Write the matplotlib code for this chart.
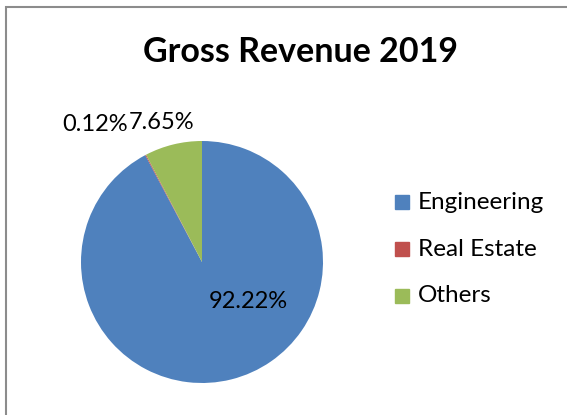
import matplotlib.pyplot as plt
from matplotlib.patches import Rectangle

# Data
categories = ["Engineering", "Real Estate", "Others"]
shares = [92.22, 0.12, 7.65]
pct_labels = ["92.22%", "0.12%", "7.65%"]
colors = ["#4F81BD", "#C0504D", "#9BBB59"]

plt.rcParams['font.family'] = ['Lato', 'DejaVu Sans']

fig = plt.figure(figsize=(5.67, 4.15), dpi=100)
# pixel mapping: pie centre at (202, 262), radius 121 px
cx, cy, r = 202, 262, 121
ax = fig.add_axes([0, 0, 1, 1])

wedges, _ = ax.pie(shares, colors=colors, startangle=90, counterclock=False,
                   radius=1, center=(0, 0), frame=True)
ax.set_xlim(-cx / r, (567 - cx) / r)
ax.set_ylim((cy - 415) / r, cy / r)
ax.set_aspect('auto')
ax.axis('off')

def px(x, y):
    return ((x - cx) / r, (cy - y) / r)

# data labels
label_pos = [(248, 302), (95, 124), (162, 122)]
for lab, (x, y) in zip(pct_labels, label_pos):
    ax.text(*px(x, y), lab, ha='center', va='center', fontsize=17, color='#000000')

# title
ax.text(*px(300, 52), "Gross Revenue 2019", ha='center', va='center',
        fontsize=24.5, fontweight='bold')

# legend
leg_y = [202, 249, 296]
for name, c, y in zip(categories, colors, leg_y):
    ax.add_patch(Rectangle(px(395, y + 7), 14 / r, 14 / r, color=c))
    ax.text(*px(418, y), name, ha='left', va='center', fontsize=17.5)

# chart frame
fig.patches.append(Rectangle((6 / 567, -0.1), 1.2, 1 - 7 / 415 + 0.1,
                             transform=fig.transFigure, fill=False,
                             edgecolor='#8c8c8c', linewidth=1.5))

fig.savefig("out.png", dpi=100)
